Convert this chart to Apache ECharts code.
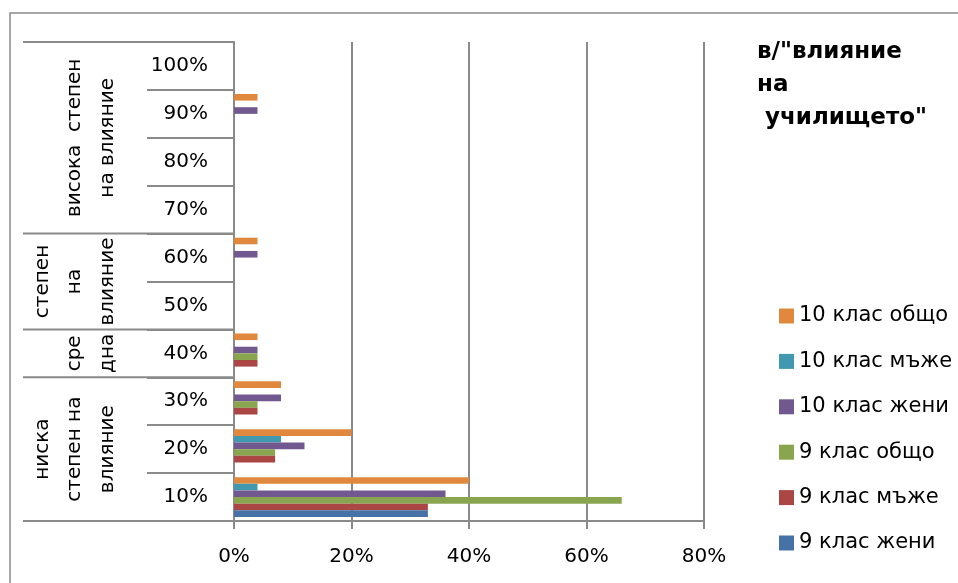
<!DOCTYPE html>
<html>
<head>
<meta charset="utf-8">
<script src="https://cdn.jsdelivr.net/npm/echarts@6/dist/echarts.min.js"></script>
<style>
  html, body { margin: 0; padding: 0; background: #fff; }
  #main { width: 958px; height: 583px; }
</style>
</head>
<body>
<div id="main"></div>
<script>
  // категории (степен на влияние)
  var categories = ['10%', '20%', '30%', '40%', '50%', '60%', '70%', '80%', '90%', '100%'];
  var xTicks = [0, 20, 40, 60, 80];

  // стойности в %
  var girls9 = [33, 0, 0, 0, 0, 0, 0, 0, 0, 0];
  var boys9 = [33, 7, 4, 4, 0, 0, 0, 0, 0, 0];
  var total9 = [66, 7, 4, 4, 0, 0, 0, 0, 0, 0];
  var girls10 = [36, 12, 8, 4, 0, 4, 0, 0, 4, 0];
  var boys10 = [4, 8, 0, 0, 0, 0, 0, 0, 0, 0];
  var total10 = [40, 20, 8, 4, 0, 4, 0, 0, 4, 0];

  var seriesNames = ['9 клас жени', '9 клас мъже', '9 клас общо', '10 клас жени', '10 клас мъже', '10 клас общо'];
  var seriesData = [girls9, boys9, total9, girls10, boys10, total10];
  var colors = ['#4672a8', '#aa4644', '#89a550', '#71588f', '#4198af', '#e0883e'];

  // групи по оста
  var groups = [
    { from: 6, to: 9, lines: ['висока  степен', 'на влияние'], xs: [75, 108] },
    { from: 4, to: 5, lines: ['степен', 'на', 'влияние'], xs: [43, 75, 108] },
    { from: 3, to: 3, lines: ['сре', 'дна'], xs: [75, 108] },
    { from: 0, to: 2, lines: ['ниска', 'степен на', 'влияние'], xs: [43, 75, 108] }
  ];

  var FONT = '"DejaVu Sans", sans-serif';
  var lineColor = '#8a8a8a';

  // в ECharts първата серия е най-горе, затова обръщаме реда
  var series = [];
  for (var i = seriesNames.length - 1; i >= 0; i--) {
    series.push({
      name: seriesNames[i],
      type: 'bar',
      data: seriesData[i],
      itemStyle: { color: colors[i] },
      barGap: '0%',
      barCategoryGap: '17%'
    });
  }

  var chart = echarts.init(document.getElementById('main'));
  chart.setOption({
    animation: false,
    title: {
      text: 'в/"влияние\nна\n училището"',
      left: 757,
      top: 36,
      padding: 0,
      textStyle: { fontFamily: FONT, fontSize: 23, fontWeight: 'bold', color: '#000', lineHeight: 33 }
    },
    legend: {
      orient: 'vertical',
      left: 779,
      top: 305,
      padding: 0,
      icon: 'rect',
      itemWidth: 15,
      itemHeight: 15,
      itemGap: 23.4,
      data: seriesNames.slice().reverse(),
      textStyle: { fontFamily: FONT, fontSize: 21, color: '#000', lineHeight: 22 }
    },
    grid: { left: 234, right: 254, top: 42, bottom: 62 },
    xAxis: {
      type: 'value',
      min: 0,
      max: 80,
      interval: 20,
      axisLine: { show: true, lineStyle: { color: lineColor, width: 2 } },
      axisTick: { show: true, length: 8, lineStyle: { color: lineColor, width: 2 } },
      splitLine: { show: true, lineStyle: { color: lineColor, width: 2 } },
      axisLabel: {
        margin: 26,
        fontFamily: FONT,
        fontSize: 20,
        color: '#000',
        formatter: function (v) { return xTicks.indexOf(v) >= 0 ? v + '%' : ''; }
      }
    },
    yAxis: {
      type: 'category',
      data: categories,
      axisLine: { show: true, lineStyle: { color: lineColor, width: 2 } },
      axisTick: { show: true, length: 87, lineStyle: { color: lineColor, width: 2 } },
      axisLabel: { margin: 26, fontFamily: FONT, fontSize: 20, color: '#000' }
    },
    series: series
  });

  // рамка, дълги разделителни линии и надписи на групите
  var c0 = chart.convertToPixel({ yAxisIndex: 0 }, categories[0]);
  var c1 = chart.convertToPixel({ yAxisIndex: 0 }, categories[1]);
  var band = Math.abs(c0 - c1);
  var axisX = chart.convertToPixel({ xAxisIndex: 0 }, 0);
  function bottomOf(i) { return chart.convertToPixel({ yAxisIndex: 0 }, categories[i]) + band / 2; }
  function topOf(i) { return chart.convertToPixel({ yAxisIndex: 0 }, categories[i]) - band / 2; }

  var graphics = [{
    type: 'rect',
    shape: { x: 10, y: 13, width: 1000, height: 700 },
    style: { fill: 'none', stroke: '#8a8a8a', lineWidth: 1.5 },
    silent: true
  }];
  var boundaries = [bottomOf(0)];
  groups.forEach(function (g) { boundaries.push(topOf(g.to)); });
  boundaries.forEach(function (y) {
    graphics.push({
      type: 'line',
      shape: { x1: 23, y1: y, x2: axisX, y2: y },
      style: { stroke: lineColor, lineWidth: 2 },
      silent: true
    });
  });
  groups.forEach(function (g) {
    var cy = (bottomOf(g.from) + topOf(g.to)) / 2;
    g.lines.forEach(function (t, k) {
      graphics.push({
        type: 'text',
        x: g.xs[k],
        y: cy,
        rotation: Math.PI / 2,
        style: {
          text: t,
          font: '20px ' + FONT,
          fill: '#000',
          align: 'center',
          verticalAlign: 'middle',
          textAlign: 'center',
          textVerticalAlign: 'middle'
        },
        silent: true
      });
    });
  });
  chart.setOption({ graphic: graphics });
</script>
</body>
</html>
